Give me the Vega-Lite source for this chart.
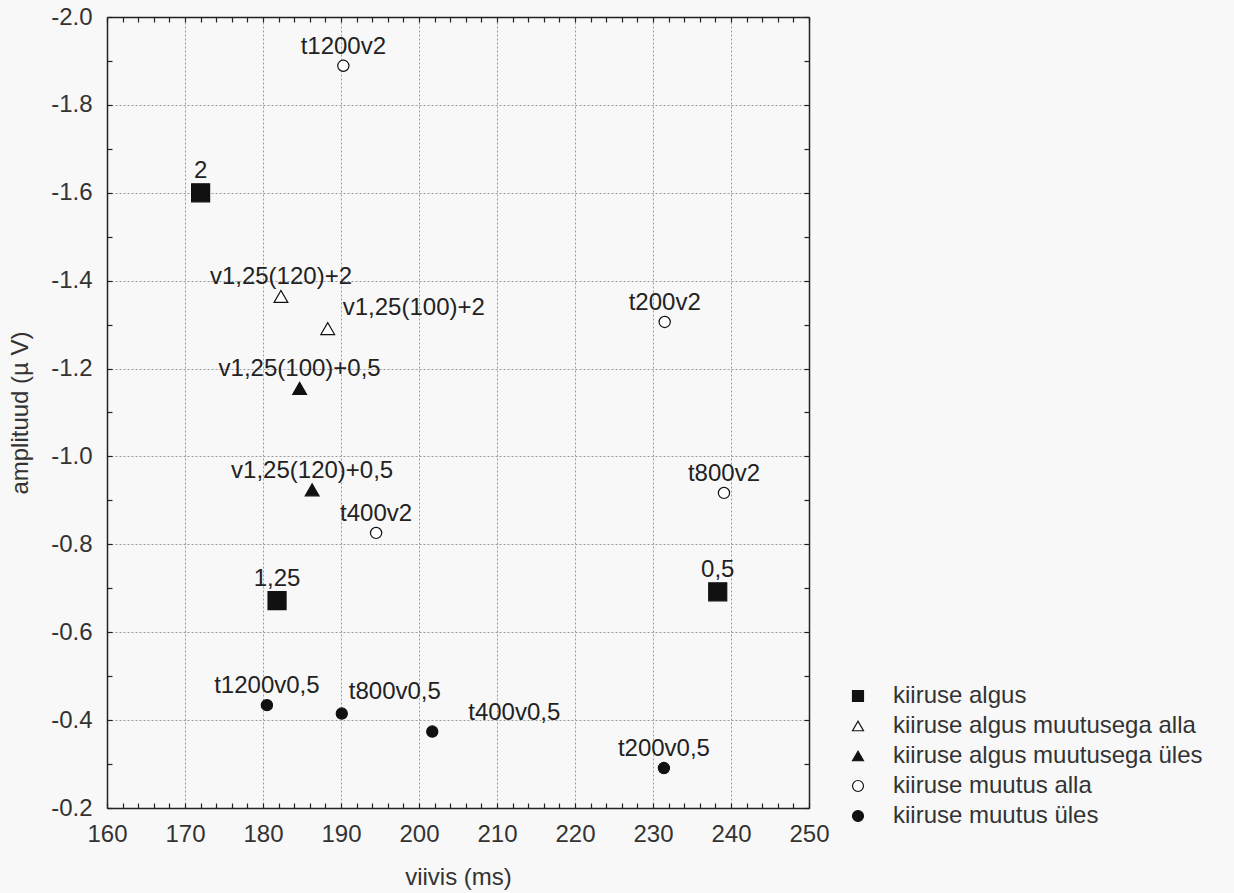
{
  "$schema": "https://vega.github.io/schema/vega-lite/v6.json",
  "width": 702,
  "height": 791,
  "autosize": {"type": "none"},
  "padding": {"left": 107, "top": 17, "right": 425, "bottom": 85},
  "background": "#f8f8f8",
  "config": {
    "font": "Liberation Sans",
    "view": {"stroke": null},
    "axis": {
      "domainColor": "#222",
      "domainWidth": 1.5,
      "tickColor": "#222",
      "tickWidth": 1.2,
      "tickSize": -5,
      "labelColor": "#333",
      "labelFontSize": 24,
      "labelFont": "Liberation Sans",
      "titleFont": "Liberation Sans",
      "titleFontSize": 24,
      "titleFontWeight": "normal",
      "titleColor": "#333",
      "gridColor": "#9a9a9a",
      "gridDash": [2, 2],
      "gridWidth": 1,
      "labelFlush": false,
      "labelOverlap": false,
      "labelBound": false
    },
    "legend": {
      "labelFont": "Liberation Sans",
      "labelFontSize": 24,
      "labelColor": "#333",
      "labelLimit": 0,
      "symbolSize": 120,
      "symbolStrokeWidth": 1.2,
      "rowPadding": 6,
      "labelOffset": 23
    }
  },
  "data": {
    "values": [
      {"seeria": "kiiruse algus", "nimi": "2", "viivis": 172.0, "amplituud": -1.60},
      {"seeria": "kiiruse algus", "nimi": "1,25", "viivis": 181.8, "amplituud": -0.672},
      {"seeria": "kiiruse algus", "nimi": "0,5", "viivis": 238.3, "amplituud": -0.692},
      {"seeria": "kiiruse algus muutusega alla", "nimi": "v1,25(120)+2", "viivis": 182.3, "amplituud": -1.364},
      {"seeria": "kiiruse algus muutusega alla", "nimi": "v1,25(100)+2", "viivis": 188.3, "amplituud": -1.291},
      {"seeria": "kiiruse algus muutusega üles", "nimi": "v1,25(100)+0,5", "viivis": 184.7, "amplituud": -1.155},
      {"seeria": "kiiruse algus muutusega üles", "nimi": "v1,25(120)+0,5", "viivis": 186.3, "amplituud": -0.924},
      {"seeria": "kiiruse muutus alla", "nimi": "t1200v2", "viivis": 190.3, "amplituud": -1.889},
      {"seeria": "kiiruse muutus alla", "nimi": "t200v2", "viivis": 231.5, "amplituud": -1.306},
      {"seeria": "kiiruse muutus alla", "nimi": "t400v2", "viivis": 194.5, "amplituud": -0.826},
      {"seeria": "kiiruse muutus alla", "nimi": "t800v2", "viivis": 239.1, "amplituud": -0.917},
      {"seeria": "kiiruse muutus üles", "nimi": "t1200v0,5", "viivis": 180.5, "amplituud": -0.434},
      {"seeria": "kiiruse muutus üles", "nimi": "t800v0,5", "viivis": 190.1, "amplituud": -0.415},
      {"seeria": "kiiruse muutus üles", "nimi": "t400v0,5", "viivis": 201.7, "amplituud": -0.374},
      {"seeria": "kiiruse muutus üles", "nimi": "t200v0,5", "viivis": 231.4, "amplituud": -0.291}
    ]
  },
  "resolve": {"axis": {"x": "independent", "y": "independent"}},
  "layer": [
    {
      "mark": {"type": "point", "filled": false, "stroke": "#111", "strokeWidth": 1.2, "opacity": 1},
      "encoding": {
        "x": {
          "field": "viivis", "type": "quantitative",
          "scale": {"domain": [160, 250], "nice": false, "zero": false},
          "axis": {
            "orient": "bottom",
            "title": "viivis (ms)",
            "values": [160,162,164,166,168,170,172,174,176,178,180,182,184,186,188,190,192,194,196,198,200,202,204,206,208,210,212,214,216,218,220,222,224,226,228,230,232,234,236,238,240,242,244,246,248,250],
            "format": "d",
            "labelExpr": "datum.value % 10 === 0 ? datum.label : ''",
            "labelPadding": 19,
            "titlePadding": 19,
            "grid": true,
            "gridOpacity": {"condition": {"test": "datum.value % 10 === 0 && datum.value > 160 && datum.value < 250", "value": 1}, "value": 0}
          }
        },
        "y": {
          "field": "amplituud", "type": "quantitative",
          "scale": {"domain": [-2.0, -0.2], "nice": false, "zero": false, "reverse": true},
          "axis": {
            "orient": "left",
            "title": "amplituud (µ V)",
            "values": [-2.0,-1.9,-1.8,-1.7,-1.6,-1.5,-1.4,-1.3,-1.2,-1.1,-1.0,-0.9,-0.8,-0.7,-0.6,-0.5,-0.4,-0.3,-0.2],
            "labelExpr": "abs(round(datum.value*10)) % 2 === 0 ? '-' + format(abs(datum.value), '.1f') : ''",
            "labelPadding": 20,
            "titlePadding": 18,
            "grid": true,
            "gridOpacity": {"condition": {"test": "abs(round(datum.value*10)) % 2 === 0 && datum.value > -1.95 && datum.value < -0.25", "value": 1}, "value": 0}
          }
        },
        "shape": {
          "field": "seeria", "type": "nominal",
          "scale": {
            "domain": ["kiiruse algus", "kiiruse algus muutusega alla", "kiiruse algus muutusega üles", "kiiruse muutus alla", "kiiruse muutus üles"],
            "range": ["square", "triangle-up", "triangle-up", "circle", "circle"]
          },
          "legend": {
            "title": null, "orient": "none", "legendX": 739, "legendY": 667, "labelLimit": 0,
            "encode": {"symbols": {"update": {"stroke": {"value": "#111"}, "strokeWidth": {"value": 1.2}}}}
          }
        },
        "fill": {
          "field": "seeria", "type": "nominal",
          "scale": {
            "domain": ["kiiruse algus", "kiiruse algus muutusega alla", "kiiruse algus muutusega üles", "kiiruse muutus alla", "kiiruse muutus üles"],
            "range": ["#111111", "#ffffff", "#111111", "#ffffff", "#111111"]
          },
          "legend": {
            "title": null, "orient": "none", "legendX": 739, "legendY": 667, "labelLimit": 0,
            "encode": {"symbols": {"update": {"stroke": {"value": "#111"}, "strokeWidth": {"value": 1.2}}}}
          }
        },
        "size": {
          "condition": [
            {"test": "datum.seeria === 'kiiruse algus'", "value": 324},
            {"test": "indexof(datum.seeria, 'muutusega') >= 0", "value": 190}
          ],
          "value": 125
        }
      }
    },
    {
      "transform": [{"filter": "datum.seeria !== 'kiiruse algus' && indexof(['v1,25(100)+2','t800v0,5','t400v0,5'], datum.nimi) < 0"}],
      "mark": {"type": "text", "fontSize": 24, "font": "Liberation Sans", "color": "#222", "align": "center", "baseline": "alphabetic", "dy": -12},
      "encoding": {
        "x": {"field": "viivis", "type": "quantitative", "scale": {"domain": [160, 250], "nice": false, "zero": false}, "axis": null},
        "y": {"field": "amplituud", "type": "quantitative", "scale": {"domain": [-2.0, -0.2], "nice": false, "zero": false, "reverse": true}, "axis": null},
        "text": {"field": "nimi"}
      }
    },
    {
      "transform": [{"filter": "datum.seeria === 'kiiruse algus'"}],
      "mark": {"type": "text", "fontSize": 24, "font": "Liberation Sans", "color": "#222", "align": "center", "baseline": "alphabetic", "dy": -15},
      "encoding": {
        "x": {"field": "viivis", "type": "quantitative", "scale": {"domain": [160, 250], "nice": false, "zero": false}, "axis": null},
        "y": {"field": "amplituud", "type": "quantitative", "scale": {"domain": [-2.0, -0.2], "nice": false, "zero": false, "reverse": true}, "axis": null},
        "text": {"field": "nimi"}
      }
    },
    {
      "transform": [{"filter": "datum.nimi === 'v1,25(100)+2'"}],
      "mark": {"type": "text", "fontSize": 24, "font": "Liberation Sans", "color": "#222", "align": "left", "baseline": "alphabetic", "dx": 15, "dy": -14},
      "encoding": {
        "x": {"field": "viivis", "type": "quantitative", "scale": {"domain": [160, 250], "nice": false, "zero": false}, "axis": null},
        "y": {"field": "amplituud", "type": "quantitative", "scale": {"domain": [-2.0, -0.2], "nice": false, "zero": false, "reverse": true}, "axis": null},
        "text": {"field": "nimi"}
      }
    },
    {
      "transform": [{"filter": "datum.nimi === 't800v0,5'"}],
      "mark": {"type": "text", "fontSize": 24, "font": "Liberation Sans", "color": "#222", "align": "left", "baseline": "alphabetic", "dx": 7, "dy": -15},
      "encoding": {
        "x": {"field": "viivis", "type": "quantitative", "scale": {"domain": [160, 250], "nice": false, "zero": false}, "axis": null},
        "y": {"field": "amplituud", "type": "quantitative", "scale": {"domain": [-2.0, -0.2], "nice": false, "zero": false, "reverse": true}, "axis": null},
        "text": {"field": "nimi"}
      }
    },
    {
      "transform": [{"filter": "datum.nimi === 't400v0,5'"}],
      "mark": {"type": "text", "fontSize": 24, "font": "Liberation Sans", "color": "#222", "align": "left", "baseline": "alphabetic", "dx": 36, "dy": -12},
      "encoding": {
        "x": {"field": "viivis", "type": "quantitative", "scale": {"domain": [160, 250], "nice": false, "zero": false}, "axis": null},
        "y": {"field": "amplituud", "type": "quantitative", "scale": {"domain": [-2.0, -0.2], "nice": false, "zero": false, "reverse": true}, "axis": null},
        "text": {"field": "nimi"}
      }
    },
    {
      "mark": {"type": "point", "opacity": 0},
      "encoding": {
        "x": {
          "field": "viivis", "type": "quantitative",
          "scale": {"domain": [160, 250], "nice": false, "zero": false},
          "axis": {
            "orient": "top", "title": null, "labels": false, "grid": false,
            "values": [160,162,164,166,168,170,172,174,176,178,180,182,184,186,188,190,192,194,196,198,200,202,204,206,208,210,212,214,216,218,220,222,224,226,228,230,232,234,236,238,240,242,244,246,248,250]
          }
        },
        "y": {
          "field": "amplituud", "type": "quantitative",
          "scale": {"domain": [-2.0, -0.2], "nice": false, "zero": false, "reverse": true},
          "axis": {
            "orient": "right", "title": null, "labels": false, "grid": false,
            "values": [-2.0,-1.9,-1.8,-1.7,-1.6,-1.5,-1.4,-1.3,-1.2,-1.1,-1.0,-0.9,-0.8,-0.7,-0.6,-0.5,-0.4,-0.3,-0.2]
          }
        }
      }
    }
  ]
}
